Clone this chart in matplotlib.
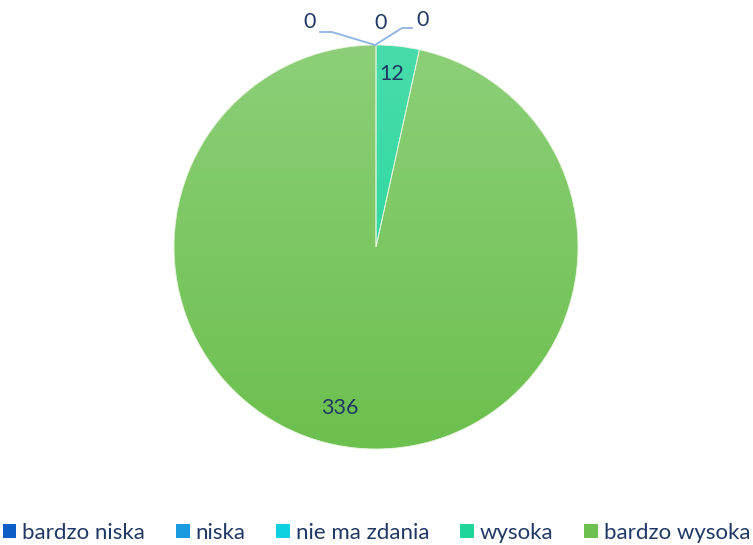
#!/usr/bin/env python3
"""
plot.py

Pie chart of answers (bardzo niska ... bardzo wysoka).
"""

import matplotlib
matplotlib.use('Agg')
import matplotlib.pyplot as plt
import numpy as np
from matplotlib.colors import LinearSegmentedColormap
from matplotlib.patches import Patch

plt.rcParams['font.family'] = ['Lato', 'DejaVu Sans']

categories = ['bardzo niska', 'niska', 'nie ma zdania', 'wysoka', 'bardzo wysoka']
values = [0, 0, 0, 12, 336]

# top / bottom colours of each gradient fill
top_colors = ['#3d7fd8', '#3fb0ec', '#3fdcec', '#48dcaa', '#8ccf78']
bottom_colors = ['#0a5ec6', '#1a9ae0', '#0dd0e0', '#1ed69a', '#6cc04e']

text_color = '#1f3864'

fig = plt.figure(figsize=(7.53, 5.45), dpi=100)
ax = fig.add_axes([0, 0, 1, 1])

cx, cy, r = 376, 298, 202

wedges, _ = ax.pie(values, startangle=90, counterclock=False,
                   center=(cx, cy), radius=r, frame=True,
                   wedgeprops=dict(linewidth=0.6, edgecolor='#e8f4e0'))
ax.set_xlim(0, 753)
ax.set_ylim(0, 545)
ax.set_aspect('equal')
ax.axis('off')

# Gradient fill for each wedge.
grad = np.linspace(0, 1, 256).reshape(-1, 1)
for w, c_top, c_bot, v in zip(wedges, top_colors, bottom_colors, values):
    if v == 0:
        w.set_visible(False)
        continue
    cmap = LinearSegmentedColormap.from_list('g', [c_bot, c_top])
    im = ax.imshow(grad, cmap=cmap, origin='lower', aspect='auto',
                   extent=(cx - r, cx + r, cy - r, cy + r), zorder=1)
    im.set_clip_path(w)
    w.set_facecolor('none')
    w.set_zorder(2)

# Data labels.
lab_kw = dict(color=text_color, fontsize=15.5, ha='center', va='center')
ax.text(392, 545 - 74, str(values[3]), **lab_kw)
ax.text(340, 545 - 408, str(values[4]), **lab_kw)

# Zero labels with leader lines.
line_kw = dict(color='#8db4e2', lw=1.3, zorder=3)
ax.plot([375, 332, 320], [545 - 45, 545 - 32, 545 - 32], **line_kw)
ax.plot([375, 402, 412], [545 - 45, 545 - 28, 545 - 28], **line_kw)
ax.text(310, 545 - 22, str(values[0]), **lab_kw)
ax.text(381, 545 - 23, str(values[1]), **lab_kw)
ax.text(423, 545 - 20, str(values[2]), **lab_kw)

handles = [Patch(facecolor=c, edgecolor='none') for c in bottom_colors]
fig.legend(handles, categories, loc='center', bbox_to_anchor=(0.5, 12 / 545),
           ncol=5, frameon=False, fontsize=16, labelcolor=text_color,
           handlelength=0.62, handleheight=0.62, handletextpad=0.25,
           columnspacing=1.4)

fig.savefig('out.png', dpi=100)
